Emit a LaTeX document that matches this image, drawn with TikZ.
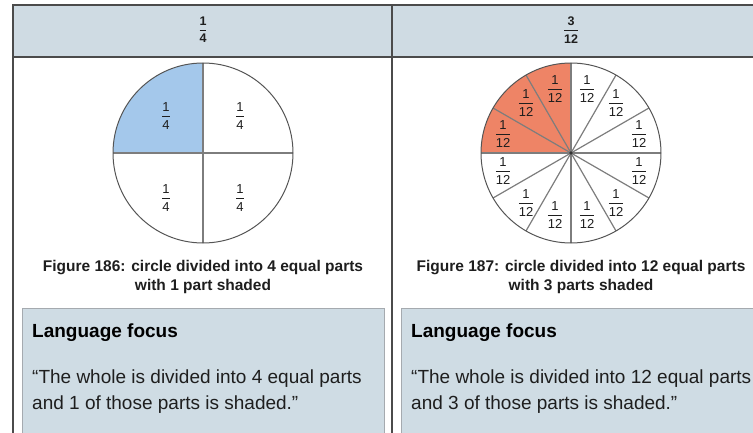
\documentclass[tikz,border=0pt]{standalone}
\usepackage{fontspec}
\setmainfont{Liberation Sans}
\definecolor{headfill}{RGB}{207,219,227}
\definecolor{boxfill}{RGB}{207,220,228}
\definecolor{boxline}{RGB}{165,170,175}
\definecolor{tblline}{RGB}{75,75,75}
\definecolor{qblue}{RGB}{164,200,235}
\definecolor{qorange}{RGB}{238,132,102}
\definecolor{ringcol}{RGB}{85,85,85}
\definecolor{divcol}{RGB}{125,125,125}
\definecolor{txt}{RGB}{30,30,30}
\newcommand\myfr[2]{$\displaystyle{\hbox{#1}\above 1pt\hbox{#2}}$}
\begin{document}
\begin{tikzpicture}[x=1pt,y=1pt,
  tbl/.style={draw=tblline,line width=1.5pt},
  ring/.style={draw=ringcol,line width=1pt},
  divline/.style={draw=divcol,line width=1.2pt},
  hfrac/.style={inner sep=0pt,text=txt,font=\fontsize{12.5}{14}\selectfont\bfseries},
  lbl/.style={inner sep=0pt,text=txt,font=\fontsize{13}{15}\selectfont},
  capt/.style={inner sep=0pt,anchor=base,text=txt,font=\fontsize{15.5}{18}\selectfont\bfseries},
  lfhead/.style={inner sep=0pt,anchor=base west,text=black,font=\fontsize{19}{22}\selectfont\bfseries},
  quote/.style={inner sep=0pt,anchor=base west,text=txt,font=\fontsize{19}{22}\selectfont},
  lfbox/.style={fill=boxfill,draw=boxline,line width=1pt}]
\useasboundingbox (0,0) rectangle (753,432);
% header
\fill[headfill] (13,375) rectangle (753,427);
% language focus boxes
\path[lfbox] (22,-5) rectangle (384,124);
\path[lfbox] (401,-5) rectangle (760,124);
% table lines
\draw[tbl] (753,427) -- (13,427) -- (13,-2);
\draw[tbl] (392,427) -- (392,-2);
\draw[tbl,line width=2pt] (13,375) -- (753,375);
% header fractions
\node[hfrac] (h1) at (203,402) {\myfr{1}{4}};
\node[hfrac] (h2) at (571,402) {\myfr{3}{12}};
% circle 1
\coordinate (c1) at (203,279);
\fill[qblue] (c1) -- ++(0,90) arc[start angle=90,end angle=180,radius=90] -- cycle;
\draw[divline] (c1) ++(-90,0) -- ++(180,0);
\draw[divline] (c1) ++(0,-90) -- ++(0,180);
\draw[ring] (c1) circle[radius=90];
\node[lbl] (q1) at ([shift={(-37,37)}]c1) {\myfr{1}{4}};
\node[lbl] (q2) at ([shift={(37,37)}]c1) {\myfr{1}{4}};
\node[lbl] (q3) at ([shift={(-37,-45)}]c1) {\myfr{1}{4}};
\node[lbl] (q4) at ([shift={(37,-45)}]c1) {\myfr{1}{4}};
% circle 2
\coordinate (c2) at (571,279);
\fill[qorange] (c2) -- ++(0,90) arc[start angle=90,end angle=180,radius=90] -- cycle;
\foreach \a in {0,30,...,330} \draw[divline] (c2) -- ([shift={(\a:90pt)}]c2);
\draw[ring] (c2) circle[radius=90];
\fill[black!80] (c2) circle[radius=1.8];
\foreach \dx/\dy [count=\i] in {68/19,45/50,16/64,-16/64,-45/50,-68/19,-68/-18,-45/-50,-16/-62,16/-62,45/-50,68/-18}
  \node[lbl] (t\i) at ([shift={(\dx,\dy)}]c2) {\myfr{1}{12}};
% captions
\node[capt] (cap1a) at (203,161) {Figure 186: circle divided into 4 equal parts};
\node[capt] (cap1b) at (203,142) {with 1 part shaded};
\node[capt] (cap2a) at (581,161) {Figure 187: circle divided into 12 equal parts};
\node[capt] (cap2b) at (581,142) {with 3 parts shaded};
% language focus text
\node[lfhead] (lf1) at (32,95) {Language focus};
\node[quote] (qa1) at (32,49) {“The whole is divided into 4 equal parts};
\node[quote] (qa2) at (32,23) {and 1 of those parts is shaded.”};
\node[lfhead] (lf2) at (411,95) {Language focus};
\node[quote] (qb1) at (411,49) {“The whole is divided into 12 equal parts};
\node[quote] (qb2) at (411,23) {and 3 of those parts is shaded.”};
\end{tikzpicture}
\end{document}
